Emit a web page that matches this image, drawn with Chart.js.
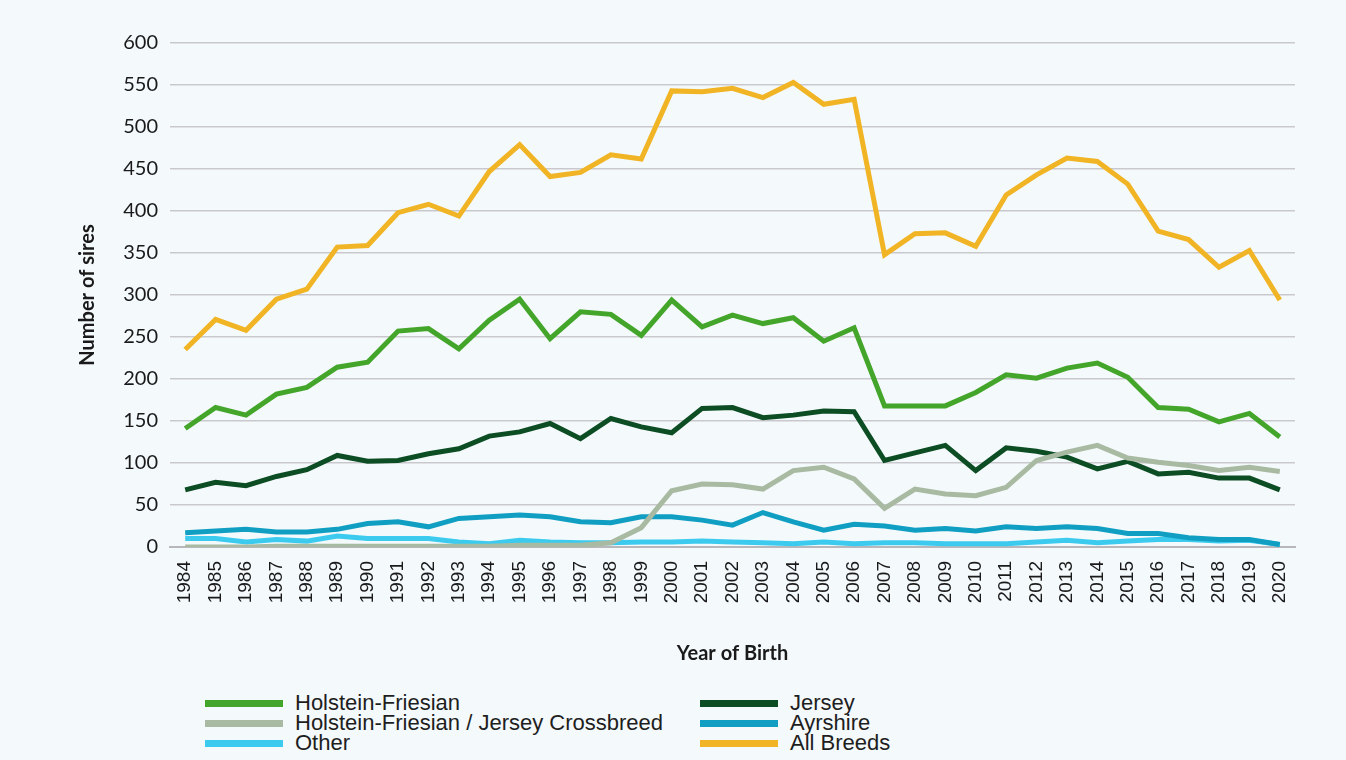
<!DOCTYPE html>
<html>
<head>
<meta charset="utf-8">
<script src="https://cdn.jsdelivr.net/npm/chart.js@4"></script>
<style>
  html, body { margin: 0; padding: 0; background: #f4f9fb; }
  #wrap { position: relative; width: 1346px; height: 690px; }
  #legend {
    position: absolute; left: 205px; top: 693px;
    display: grid; grid-template-columns: 495px 300px; row-gap: 0px;
    font-family: "Liberation Sans Narrow", "Liberation Sans", Arial, sans-serif;
    font-size: 22px; color: #1e1e1e;
  }
  .item { display: flex; align-items: center; height: 20px; }
  .swatch { width: 78px; height: 7px; margin-right: 12px; }
</style>
</head>
<body>
<div id="wrap"><canvas id="grafico" width="1346" height="690"></canvas></div>
<div id="legend"></div>
<script>
const years = [];
for (let y = 1984; y <= 2020; y++) years.push(String(y));

const holstein = [141, 166, 157, 182, 190, 214, 220, 257, 260, 236, 270, 295, 248, 280, 277, 252, 294, 262, 276, 266, 273, 245, 261,
  168, 168, 168, 184, 205, 201, 213, 219, 202, 166, 164, 149, 159, 131];
const jersey = [68, 77, 73, 84, 92, 109, 102, 103, 111, 117, 132, 137, 147, 129, 153, 143, 136, 165, 166, 154, 157, 162, 161,
  103, 112, 121, 91, 118, 114, 107, 93, 102, 87, 89, 82, 82, 68];
const crossbreed = [0, 0, 0, 1, 1, 1, 1, 1, 1, 1, 1, 2, 2, 2, 5, 23, 67, 75, 74, 69, 91, 95, 81,
  46, 69, 63, 61, 71, 103, 113, 121, 106, 101, 97, 91, 95, 90];
const ayrshire = [17, 19, 21, 18, 18, 21, 28, 30, 24, 34, 36, 38, 36, 30, 29, 36, 36, 32, 26, 41, 30, 20, 27,
  25, 20, 22, 19, 24, 22, 24, 22, 16, 16, 11, 9, 9, 3];
const other = [10, 10, 6, 9, 7, 13, 10, 10, 10, 6, 4, 8, 6, 5, 5, 6, 6, 7, 6, 5, 4, 6, 4,
  5, 5, 4, 4, 4, 6, 8, 5, 7, 9, 9, 7, 8, 3];
const allBreeds = [235, 271, 258, 295, 307, 357, 359, 398, 408, 394, 447, 479, 441, 446, 467, 462, 543, 542, 546, 535, 553, 527, 533,
  348, 373, 374, 358, 419, 443, 463, 459, 432, 376, 366, 333, 353, 294];

const series = [
  { label: "Holstein-Friesian", data: holstein, color: "#43a62b", order: 2 },
  { label: "Jersey", data: jersey, color: "#0c4d24", order: 4 },
  { label: "Holstein-Friesian / Jersey Crossbreed", data: crossbreed, color: "#a9baa2", order: 3 },
  { label: "Ayrshire", data: ayrshire, color: "#109fc2", order: 5 },
  { label: "Other", data: other, color: "#3ccbef", order: 6 },
  { label: "All Breeds", data: allBreeds, color: "#f0b424", order: 1 }
];

const ctx = document.getElementById("grafico").getContext("2d");
const chart = new Chart(ctx, {
  type: "line",
  data: {
    labels: years,
    datasets: series.map(s => ({
      label: s.label,
      data: s.data,
      borderColor: s.color,
      backgroundColor: s.color,
      borderWidth: 5,
      pointRadius: 0,
      tension: 0,
      fill: false,
      order: s.order
    }))
  },
  options: {
    responsive: false,
    animation: false,
    layout: { padding: { left: 72, right: 51, top: 43, bottom: 20 } },
    plugins: { legend: { display: false }, tooltip: { enabled: false } },
    scales: {
      x: {
        offset: true,
        grid: { display: false, drawTicks: false },
        border: { display: true, color: "#b8b8bc", width: 2 },
        ticks: {
          minRotation: 90, maxRotation: 90, padding: 14, color: "#1a1a1a",
          font: { family: "Liberation Sans, Arial, sans-serif", size: 19 }
        },
        title: {
          display: true, text: "Year of Birth", color: "#1a1a1a", padding: { top: 8, bottom: 4 },
          font: { family: "Lato, sans-serif", size: 20, weight: "bold" }
        },
        afterFit: scale => { scale.height = 123; }
      },
      y: {
        min: 0, max: 600,
        grid: { color: "#c9c9cd", lineWidth: 1.5, drawTicks: false },
        border: { display: false },
        ticks: {
          stepSize: 50, padding: 12, color: "#1a1a1a",
          font: { family: "Lato, sans-serif", size: 20 }
        },
        title: {
          display: true, text: "Number of sires", color: "#1a1a1a", padding: 4,
          font: { family: "Lato, sans-serif", size: 20, weight: "bold" }
        },
        afterFit: scale => { scale.width = 98; }
      }
    }
  }
});

// legenda en dos columnas, mismo orden que el original
const legendDiv = document.getElementById("legend");
const legendOrder = ["Holstein-Friesian", "Jersey", "Holstein-Friesian / Jersey Crossbreed", "Ayrshire", "Other", "All Breeds"];
legendOrder.forEach(name => {
  const s = series.find(x => x.label === name);
  const item = document.createElement("div");
  item.className = "item";
  const sw = document.createElement("span");
  sw.className = "swatch";
  sw.style.background = s.color;
  const txt = document.createElement("span");
  txt.textContent = s.label;
  item.appendChild(sw);
  item.appendChild(txt);
  legendDiv.appendChild(item);
});
</script>
</body>
</html>
